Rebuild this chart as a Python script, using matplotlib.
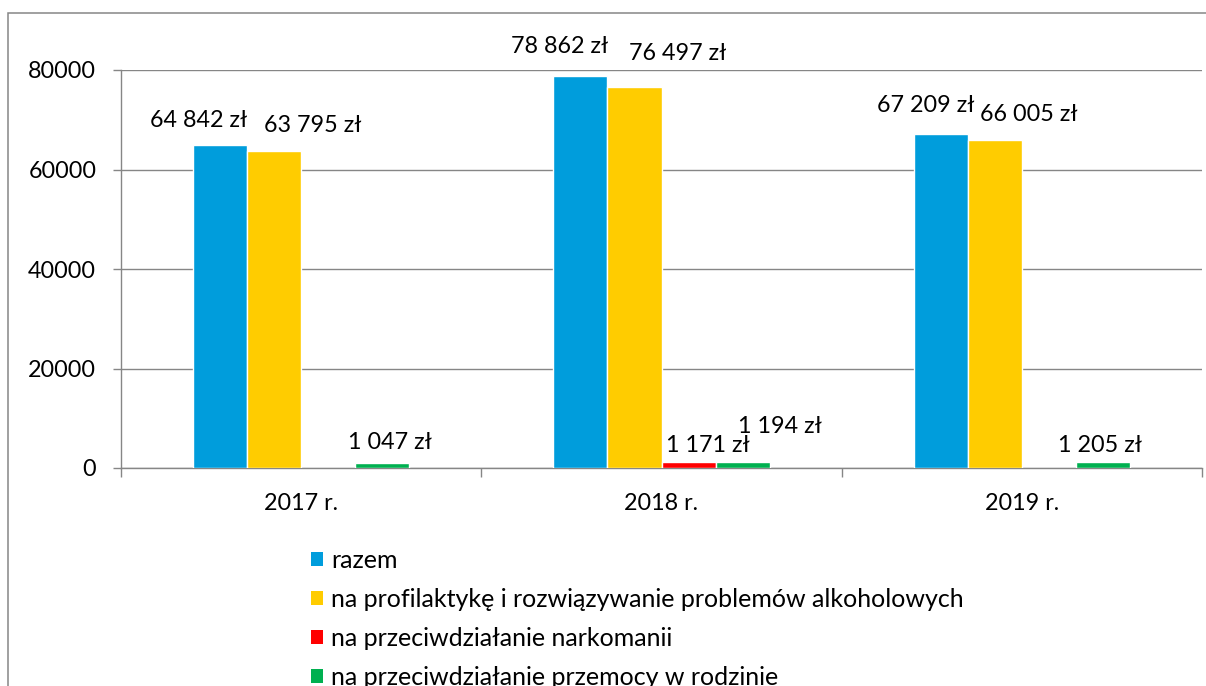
import numpy as np
import matplotlib
matplotlib.use("Agg")
import matplotlib.pyplot as plt
from matplotlib.patches import Patch, Rectangle

plt.rcParams['font.family'] = ['Lato', 'DejaVu Sans']

# ---- data ----
categories = ["2017 r.", "2018 r.", "2019 r."]
series_names = [
    "razem",
    "na profilaktykę i rozwiązywanie problemów alkoholowych",
    "na przeciwdziałanie narkomanii",
    "na przeciwdziałanie przemocy w rodzinie",
]
razem = [64842, 78862, 67209]
alkohol = [63795, 76497, 66005]
narkomania = [0, 1171, 0]
przemoc = [1047, 1194, 1205]
y_ticks = [0, 20000, 40000, 60000, 80000]

# ---- style ----
colors = ["#009DDC", "#FFCC00", "#FF0000", "#00B050"]
grid_col = "#868686"
FS = 16.8
LEG_FS = 18
# manual label offsets (pixels) relative to bar top-centre, per series per category
label_offsets = [
    [(-21, 25), (-21, 29), (-15, 28)],
    [(39, 25), (43, 34), (34, 25)],
    [(0, 0), (19, 17), (0, 0)],
    [(8, 20), (37, 36), (-3, 17)],
]

W, H = 1206, 686
fig = plt.figure(figsize=(W / 100, H / 100), dpi=100)
ax = fig.add_axes([121 / W, 1 - 468 / H, (1202 - 121) / W, 398 / H])

values = [razem, alkohol, narkomania, przemoc]
x = np.arange(len(categories))
bw = 0.15
offs = [-1.5 * bw, -0.5 * bw, 0.5 * bw, 1.5 * bw]

for i, (vals, col) in enumerate(zip(values, colors)):
    bars = ax.bar(x + offs[i], vals, width=bw, color=col, edgecolor="white",
                  linewidth=1.0, zorder=3, label=series_names[i])
    for j, (b, v) in enumerate(zip(bars, vals)):
        if v == 0:
            continue
        txt = f"{v:,}".replace(",", " ") + " zł"
        ax.annotate(txt, (b.get_x() + b.get_width() / 2, b.get_height()),
                    xytext=label_offsets[i][j], textcoords="offset pixels",
                    ha="center", va="center", fontsize=FS, color="black",
                    zorder=4, annotation_clip=False)

ax.set_xlim(-0.5, len(categories) - 0.5)
ax.set_ylim(0, 80000)
ax.set_yticks(y_ticks)
ax.set_yticklabels([str(t) for t in y_ticks])
ax.yaxis.grid(True, color=grid_col, linewidth=1.0, zorder=0)
ax.set_axisbelow(True)

ax.set_xticks(np.arange(len(categories) + 1) - 0.5)
ax.set_xticklabels([])
ax.set_xticks(x, minor=True)
ax.set_xticklabels(categories, minor=True)
ax.tick_params(axis="x", which="major", length=6.5, width=1.0, color=grid_col, direction="out")
ax.tick_params(axis="x", which="minor", length=0, pad=18, labelsize=FS)
ax.tick_params(axis="y", length=5.8, width=1.0, color=grid_col, direction="out", pad=12, labelsize=FS)

for s in ["top", "right"]:
    ax.spines[s].set_visible(False)
for s in ["left", "bottom"]:
    ax.spines[s].set_color(grid_col)
    ax.spines[s].set_linewidth(1.0)

# outer chart border
fig.add_artist(Rectangle((8 / W, -0.2), 1.5, (1 - 13 / H) + 0.2, transform=fig.transFigure,
                         fill=False, edgecolor=grid_col, linewidth=1.1))

handles = [Patch(facecolor=c, edgecolor="none") for c in colors]
leg = fig.legend(handles, series_names, loc="upper left",
                 bbox_to_anchor=(311 / W, 1 - 549 / H), bbox_transform=fig.transFigure,
                 frameon=False, fontsize=LEG_FS, handlelength=0.48, handleheight=0.48,
                 handletextpad=0.32, labelspacing=0.64, borderpad=0, borderaxespad=0)

fig.savefig("out.png", dpi=100)
